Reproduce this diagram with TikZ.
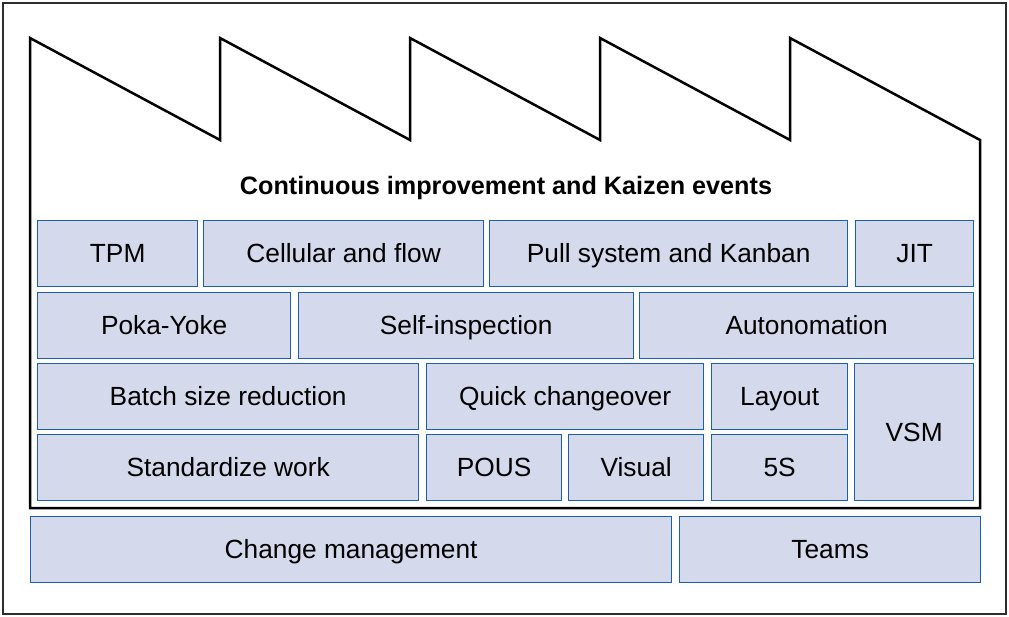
\documentclass[tikz,border=0pt]{standalone}
\usepackage{fontspec}
\setmainfont{Liberation Sans}
\definecolor{boxfill}{RGB}{212,217,236}
\definecolor{boxline}{RGB}{30,95,170}
\definecolor{framegray}{RGB}{45,45,45}
\tikzset{
  bloc/.style={draw=boxline, fill=boxfill, line width=1.3pt, anchor=north west,
    inner sep=0pt, text height=18.5pt, text depth=0pt, font=\fontsize{26.3}{30}\selectfont},
}
\begin{document}
\begin{tikzpicture}[x=1pt, y=-1pt]
\useasboundingbox (0,0) rectangle (1009,617);
% cadre exterieur
\draw[framegray, line width=2.8pt] (3,3) rectangle (1006,614);
% usine (toit en dents de scie)
\draw[black, line width=2.5pt, fill=white] (30,508) -- (30,38) -- (220,140) -- (220,38) -- (410,140)
  -- (410,38) -- (600,140) -- (600,38) -- (790,140) -- (790,38) -- (980,140) -- (980,508) -- cycle;
\node[font=\fontsize{25.2}{30}\selectfont\bfseries] (kaizen) at (506,188) {Continuous improvement and Kaizen events};

% rangee 1
\node[bloc, minimum width=160, minimum height=66] (tpm) at (37,220) {TPM};
\node[bloc, minimum width=280, minimum height=66] (cell) at (203,220) {Cellular and flow};
\node[bloc, minimum width=358, minimum height=66] (pull) at (489,220) {Pull system and Kanban};
\node[bloc, minimum width=118, minimum height=66] (jit) at (855,220) {JIT};
% rangee 2
\node[bloc, minimum width=253, minimum height=66] (poka) at (37,292) {Poka-Yoke};
\node[bloc, minimum width=335, minimum height=66] (self) at (298,292) {Self-inspection};
\node[bloc, minimum width=334, minimum height=66] (auto) at (639,292) {Autonomation};
% rangee 3
\node[bloc, minimum width=381, minimum height=66] (batch) at (37,363) {Batch size reduction};
\node[bloc, minimum width=277, minimum height=66] (quick) at (426,363) {Quick changeover};
\node[bloc, minimum width=136, minimum height=66] (layout) at (711,363) {Layout};
\node[bloc, minimum width=119, minimum height=137] (vsm) at (854,363) {VSM};
% rangee 4
\node[bloc, minimum width=381, minimum height=66] (std) at (37,434) {Standardize work};
\node[bloc, minimum width=135, minimum height=66] (pous) at (426,434) {POUS};
\node[bloc, minimum width=135, minimum height=66] (visual) at (568,434) {Visual};
\node[bloc, minimum width=136, minimum height=66] (fives) at (711,434) {5S};
% fondation
\node[bloc, minimum width=641, minimum height=66] (change) at (30,516) {Change management};
\node[bloc, minimum width=301, minimum height=66] (teams) at (679,516) {Teams};
\end{tikzpicture}
\end{document}
